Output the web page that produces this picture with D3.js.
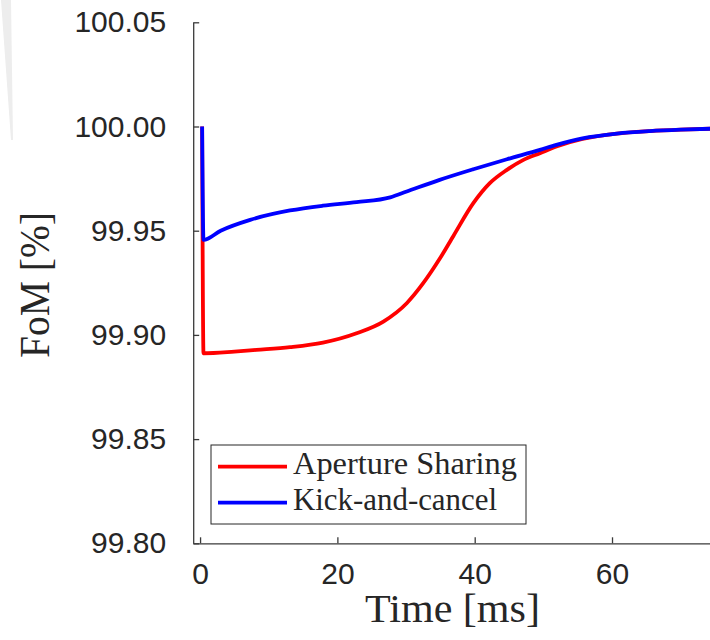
<!DOCTYPE html>
<html>
<head>
<meta charset="utf-8">
<script src="https://cdn.jsdelivr.net/npm/d3@7"></script>
<style>
  body { margin: 0; background: #fff; }
  svg { display: block; }
</style>
</head>
<body>
<div id="chart"></div>
<script>
// values
var seriesNames = ['Aperture Sharing', 'Kick-and-cancel'];
var seriesColors = ['#ff0000', '#0000ff'];

var sharingTime = [0.3, 0.5, 5, 8.2, 13.1, 17.9, 22.8, 26.7, 30.1, 32.5, 34.9, 36.9, 39.8, 42.2, 44.7, 47.1, 49.5, 51.9, 55.7, 60.7, 65.5, 70, 75];
var sharingFoM  = [100.000, 99.8912, 99.8920, 99.8928, 99.8941, 99.8963, 99.9008, 99.9064, 99.9152, 99.9248, 99.9365, 99.9475, 99.9632, 99.9728, 99.9792, 99.9840, 99.9872, 99.9904, 99.9940, 99.9966, 99.9978, 99.9985, 99.9990];

var kickTime = [0.3, 0.5, 3, 7.3, 13.1, 17.9, 22.8, 27.7, 30.1, 34.9, 39.8, 44.7, 49.5, 51.9, 55.7, 60.7, 65.5, 70, 75];
var kickFoM  = [100.000, 99.9456, 99.9500, 99.9552, 99.9597, 99.9620, 99.9637, 99.9660, 99.9688, 99.9744, 99.9795, 99.9843, 99.9888, 99.9912, 99.9943, 99.9966, 99.9978, 99.9985, 99.9990];

var xTicks = [0, 20, 40, 60];
var yTicks = [99.80, 99.85, 99.90, 99.95, 100.00, 100.05];

var svg = d3.select('#chart')
            .append('svg')
            .attr('width', 710)
            .attr('height', 640);

// faint background streak from the slide
svg.append('path')
   .attr('d', 'M1,0 L11,0 L13,140 L11,140 Z')
   .attr('fill', '#ededed');

var x = d3.scaleLinear()
          .domain([-1, 75])
          .range([193.2, 715]);

var y = d3.scaleLinear()
          .domain([99.80, 100.05])
          .range([543.3, 22.3]);

var axisColor = '#3a3a3a';
var tickFont = '"Liberation Sans", Arial, sans-serif';
var serif = '"Liberation Serif", "Times New Roman", serif';

var xAxis = svg.append('g')
   .attr('transform', `translate(0,${y.range()[0]})`)
   .call(d3.axisBottom(x).tickValues(xTicks).tickSize(-6).tickSizeOuter(0).tickPadding(19).tickFormat(d3.format('d')));

var yAxis = svg.append('g')
   .attr('transform', `translate(${x.range()[0]},0)`)
   .call(d3.axisLeft(y).tickValues(yTicks).tickSize(-6).tickSizeOuter(0).tickPadding(27).tickFormat(d3.format('.2f')));

[xAxis, yAxis].forEach(g => {
    g.select('.domain').attr('stroke', axisColor).attr('stroke-width', 1.3);
    g.selectAll('.tick line').attr('stroke', axisColor).attr('stroke-width', 1.3);
    g.selectAll('.tick text')
     .attr('fill', '#262626')
     .style('font-family', tickFont)
     .style('font-size', '30px');
});

var line = d3.line()
             .x(d => x(d[0]))
             .y(d => y(d[1]))
             .curve(d3.curveMonotoneX);

var sharing = sharingTime.map((t, i) => [t, sharingFoM[i]]);
var kick = kickTime.map((t, i) => [t, kickFoM[i]]);

[sharing, kick].forEach((data, i) => {
    svg.append('path')
       .datum(data)
       .attr('fill', 'none')
       .attr('stroke', seriesColors[i])
       .attr('stroke-width', 3.8)
       .attr('stroke-linejoin', 'round')
       .attr('d', line);
});

// axis labels
svg.append('text')
   .text('Time [ms]')
   .attr('x', 452.5)
   .attr('y', 622)
   .attr('text-anchor', 'middle')
   .attr('textLength', 175)
   .attr('lengthAdjust', 'spacingAndGlyphs')
   .attr('fill', '#262626')
   .style('font-family', serif)
   .style('font-size', '40px');

svg.append('text')
   .text('FoM [%]')
   .attr('transform', 'translate(49,285) rotate(-90)')
   .attr('text-anchor', 'middle')
   .attr('textLength', 146)
   .attr('lengthAdjust', 'spacingAndGlyphs')
   .attr('fill', '#262626')
   .style('font-family', serif)
   .style('font-size', '43px');

// legend
var legend = svg.append('g');

legend.append('rect')
      .attr('x', 211)
      .attr('y', 445)
      .attr('width', 315)
      .attr('height', 79)
      .attr('fill', '#fff')
      .attr('stroke', '#262626')
      .attr('stroke-width', 1);

var legendWidths = [224, 204];
seriesNames.forEach((name, i) => {
    var ly = 466.7 + i * 36;
    legend.append('line')
          .attr('x1', 218)
          .attr('x2', 287)
          .attr('y1', ly)
          .attr('y2', ly)
          .attr('stroke', seriesColors[i])
          .attr('stroke-width', 3.8);
    legend.append('text')
          .text(name)
          .attr('x', 293)
          .attr('y', ly + 7.6)
          .attr('textLength', legendWidths[i])
          .attr('lengthAdjust', 'spacingAndGlyphs')
          .attr('fill', '#262626')
          .style('font-family', serif)
          .style('font-size', '31px');
});
</script>
</body>
</html>
